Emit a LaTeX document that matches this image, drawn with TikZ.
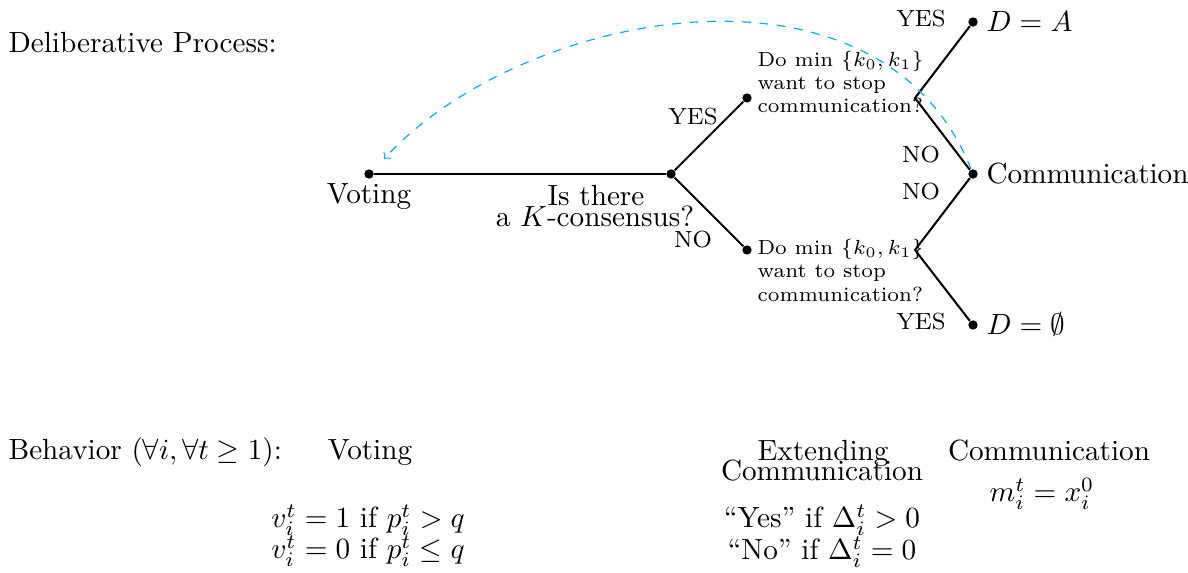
\documentclass[tikz,border=0pt]{standalone}
\usepackage{amssymb}
\definecolor{arrcyan}{RGB}{0,174,239}
\begin{document}
\begin{tikzpicture}[x=0.012037cm,y=-0.012037cm,
  dot/.style={circle,fill=black,inner sep=0pt,minimum size=3.2pt},
  edge/.style={line width=0.7pt},
  arr/.style={draw=arrcyan,dashed,line width=0.4pt,->},
  txt/.style={inner sep=0pt,anchor=base},
  ltxt/.style={inner sep=0pt,anchor=base west},
  lbl/.style={inner sep=0pt,anchor=base,font=\footnotesize},
  qline/.style={inner sep=0pt,anchor=base west,font=\scriptsize}]
\useasboundingbox (0,0) rectangle (1188,573);

% tree nodes
\node[dot] (v) at (369,174) {};
\node[dot] (c) at (671,174) {};
\node[dot] (u) at (747,98) {};
\node[dot] (l) at (747,250) {};
\coordinate (uv) at (915,98);
\coordinate (lv) at (915,250);
\node[dot] (a) at (973,22) {};
\node[dot] (m) at (973,174) {};
\node[dot] (e) at (973,325) {};
\coordinate (vt) at (384,159);

\draw[edge] (v) -- (c);
\draw[edge] (c) -- (u);
\draw[edge] (c) -- (l);
\draw[edge] (a) -- (uv) -- (m);
\draw[edge] (m) -- (lv) -- (e);

\draw[arr] (m) .. controls (880,-60) and (520,10) .. (vt);

% texts of the tree
\node[ltxt] (title) at (8,53) {Deliberative Process:};
\node[txt] (vlab) at (369,204) {Voting};
\node[txt] (cq1) at (596,206) {Is there};
\node[txt] (cq2) at (595,227) {a $K$-consensus?};

\node[qline] (uq1) at (757,67) {Do min $\{k_0,k_1\}$};
\node[qline] (uq2) at (757,90) {want to stop};
\node[qline] (uq3) at (757,113) {communication?};
\node[qline] (lq1) at (757,255) {Do min $\{k_0,k_1\}$};
\node[qline] (lq2) at (757,278) {want to stop};
\node[qline] (lq3) at (757,302) {communication?};

\node[lbl] (y1) at (693,125) {YES};
\node[lbl] (n1) at (693,248) {NO};
\node[lbl] (y2) at (921,27) {YES};
\node[lbl] (n2) at (921,163) {NO};
\node[lbl] (n3) at (921,200) {NO};
\node[lbl] (y3) at (921,330) {YES};

\node[ltxt] (da) at (986,32) {$D=A$};
\node[ltxt] (dc) at (986,184) {Communication};
\node[ltxt] (de) at (986,335) {$D=\emptyset$};

% behaviour
\node[ltxt] (beh) at (8,460) {Behavior ($\forall i, \forall t\geq 1$):};
\node[txt] (bv) at (370,460) {Voting};
\node[txt] (bv1) at (368,528) {$v_i^t=1$ if $p_i^t>q$};
\node[txt] (bv2) at (368,559) {$v_i^t=0$ if $p_i^t\leq q$};
\node[txt] (be1) at (823,461) {Extending};
\node[txt] (be2) at (822,481) {Communication};
\node[txt] (be3) at (822,528) {``Yes'' if $\Delta_i^t>0$};
\node[txt] (be4) at (822,560) {``No'' if $\Delta_i^t=0$};
\node[txt] (bc1) at (1049,461) {Communication};
\node[txt] (bc2) at (1042,502) {$m_i^t=x_i^0$};
\end{tikzpicture}
\end{document}
